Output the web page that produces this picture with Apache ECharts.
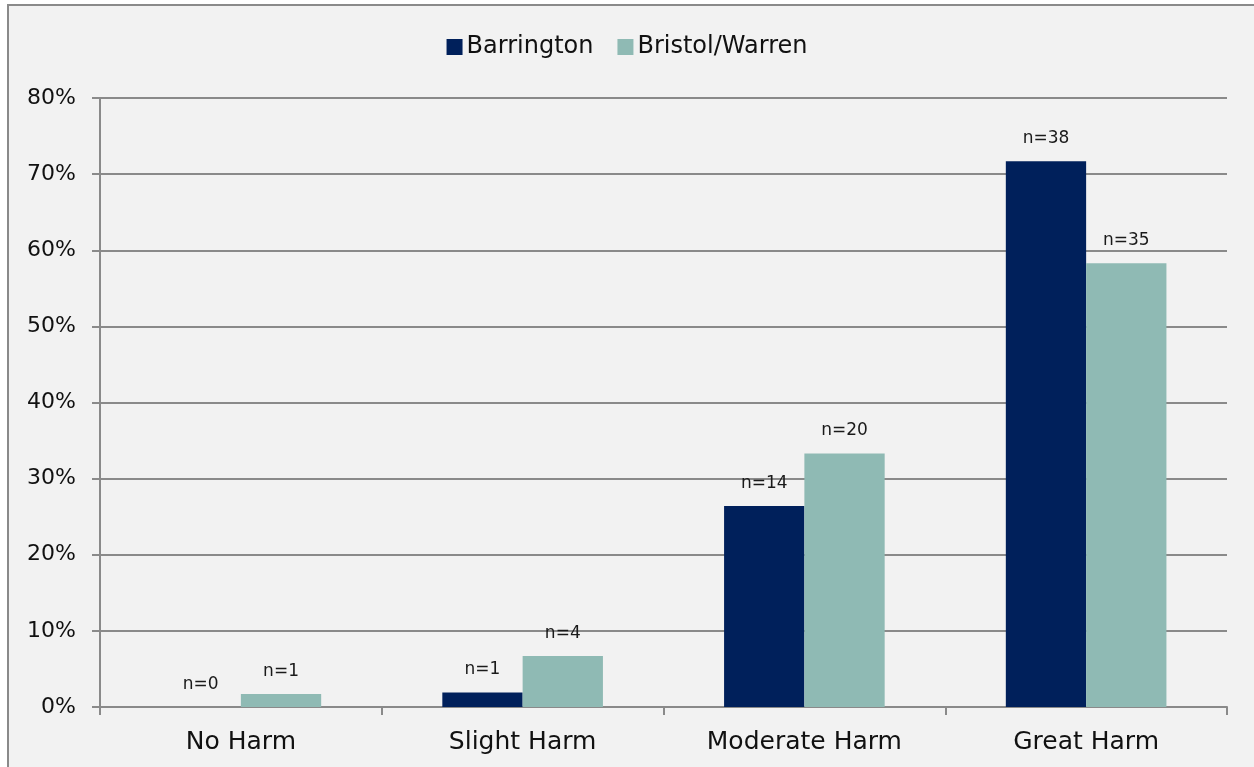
<!DOCTYPE html>
<html>
<head>
<meta charset="utf-8">
<script src="https://cdn.jsdelivr.net/npm/echarts@6/dist/echarts.min.js"></script>
<style>
html,body{margin:0;padding:0;background:#ffffff;}
#chart{width:1254px;height:767px;}
</style>
</head>
<body>
<div id="chart"></div>
<script>
const categories = ['No Harm', 'Slight Harm', 'Moderate Harm', 'Great Harm'];
const seriesNames = ['Barrington', 'Bristol/Warren'];
const barringtonPct = [0, 1.9, 26.4, 71.7];
const bristolPct = [1.7, 6.7, 33.3, 58.3];
const barringtonN = ['n=0', 'n=1', 'n=14', 'n=38'];
const bristolN = ['n=1', 'n=4', 'n=20', 'n=35'];
const yTicks = [0, 10, 20, 30, 40, 50, 60, 70, 80];

const FONT = 'DejaVu Sans';
const chart = echarts.init(document.getElementById('chart'));

function labelFor(arr) {
  return {
    show: true, position: 'top', distance: 14,
    fontFamily: FONT, fontSize: 17, color: '#1a1a1a',
    formatter: p => arr[p.dataIndex]
  };
}

chart.setOption({
  backgroundColor: '#ffffff',
  animation: false,
  graphic: [{
    type: 'rect', z: -10, silent: true,
    shape: { x: 8, y: 5, width: 1270, height: 800 },
    style: { fill: '#f2f2f2', stroke: '#8a8a8a', lineWidth: 2 }
  }],
  legend: {
    top: 30, left: 'center',
    itemWidth: 16, itemHeight: 16, itemGap: 24,
    icon: 'rect',
    textStyle: { fontFamily: FONT, fontSize: 24, color: '#111', padding: [0, 0, 0, -1] },
    data: seriesNames
  },
  grid: { left: 100, right: 27, top: 98, bottom: 60, containLabel: false },
  xAxis: {
    type: 'category', data: categories,
    axisLine: { lineStyle: { color: '#8a8a8a', width: 2 } },
    axisTick: { show: true, length: 8, lineStyle: { color: '#8a8a8a', width: 2 } },
    axisLabel: { fontFamily: FONT, fontSize: 25, color: '#111', margin: 23 }
  },
  yAxis: {
    type: 'value', min: 0, max: 80, interval: 10,
    axisLine: { show: true, lineStyle: { color: '#8a8a8a', width: 2 } },
    axisTick: { show: true, length: 8, lineStyle: { color: '#8a8a8a', width: 2 } },
    splitLine: { lineStyle: { color: '#8a8a8a', width: 2 } },
    axisLabel: {
      fontFamily: FONT, fontSize: 22, color: '#111', margin: 24,
      formatter: v => yTicks.includes(v) ? v + '%' : ''
    }
  },
  series: [
    {
      name: seriesNames[0], type: 'bar', data: barringtonPct,
      barGap: '0%', barCategoryGap: '43%',
      itemStyle: { color: '#00205b' },
      label: labelFor(barringtonN)
    },
    {
      name: seriesNames[1], type: 'bar', data: bristolPct,
      barGap: '0%', barCategoryGap: '43%',
      itemStyle: { color: '#8fbab4' },
      label: labelFor(bristolN)
    }
  ]
});
</script>
</body>
</html>
